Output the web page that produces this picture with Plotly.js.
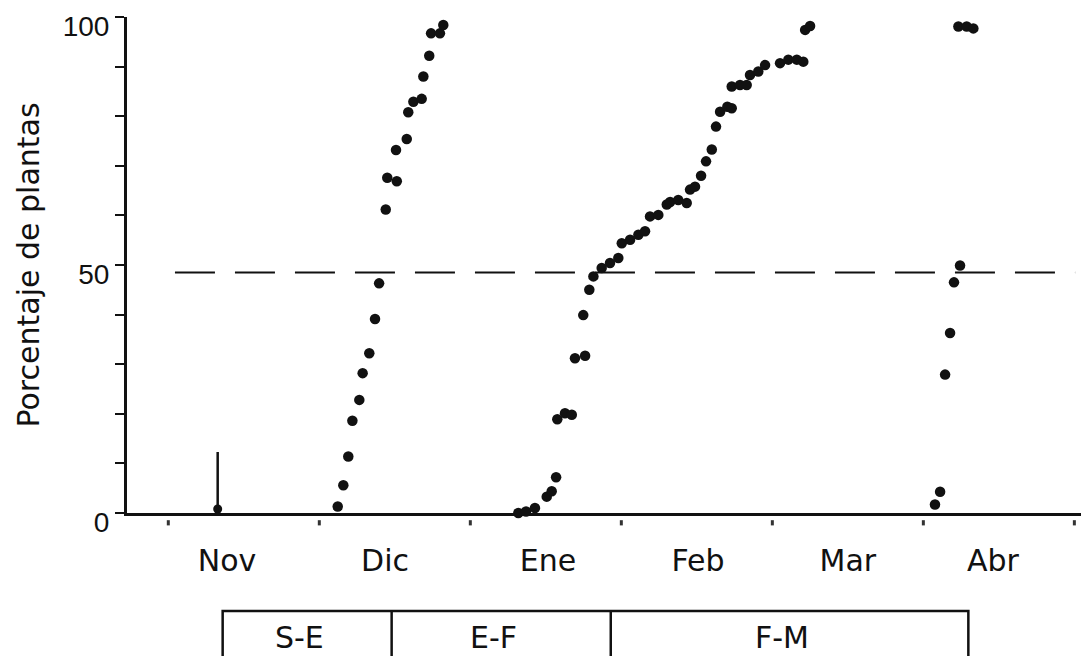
<!DOCTYPE html>
<html>
<head>
<meta charset="utf-8">
<script src="https://cdn.plot.ly/plotly-3.0.1.min.js"></script>
<style>
html,body{margin:0;padding:0;background:#fff;}
#chart{width:1081px;height:656px;}
</style>
</head>
<body>
<div id="chart"></div>
<script>
// x values: months elapsed since 1 November (0 = 1 Nov, 1 = 1 Dec, ...)
// y values: percentage of plants (Porcentaje de plantas)

// Group emerging in December
const decX = [1.122,1.159,1.192,1.219,1.265,1.287,1.331,1.369,1.396,1.440,1.450,1.513,1.508,1.579,1.589,1.623,1.678,1.689,1.728,1.740,1.799,1.821];
const decY = [1.3,5.6,11.4,18.6,22.8,28.2,32.2,39.1,46.3,61.2,67.6,66.9,73.2,75.4,80.8,82.9,83.5,88.0,92.2,96.7,96.7,98.4];

// Group from January to February
const janX = [2.318,2.369,2.428,2.506,2.539,2.568,2.576,2.627,2.672,2.693,2.760,2.748,2.788,2.815,2.870,2.925,2.980,3.003,3.058,3.113,3.157,3.190,3.245,3.301,3.323,3.377,3.433,3.455,3.488,3.528,3.561,3.599,3.627,3.654,3.702,3.731,3.731,3.786,3.830,3.852,3.907,3.952,4.051,4.106,4.162,4.205,4.217,4.250];
const janY = [0,0.3,1.0,3.3,4.4,7.2,18.9,20.1,19.8,31.2,31.7,39.9,45.0,47.7,49.4,50.4,51.4,54.4,55.1,56.1,56.8,59.8,60.1,62.2,62.7,63.1,62.5,65.2,65.8,68.0,70.9,73.3,77.9,80.9,81.9,81.6,86.0,86.3,86.3,88.3,89.0,90.3,90.7,91.4,91.4,91.0,97.4,98.2];

// Group in March / April
const aprX = [5.077,5.111,5.144,5.177,5.203,5.243,5.232,5.287,5.331];
const aprY = [1.7,4.3,27.9,36.3,46.5,49.9,98.1,98.1,97.7];

// Sowing date marker (arrow)
const sowingX = 0.327;
const sowingTop = 12.3;

// Reference level (dashed line)
const refLevel = 48.5;
const refStart = 0.044, refEnd = 6.005;

// Month boundaries and labels
const monthBounds = [0,1,2,3,4,5,6];
const monthLabelPos = [0.389,1.435,2.515,3.508,4.5,5.461];
const monthLabels = ['Nov','Dic','Ene','Feb','Mar','Abr'];

// Y ticks
const yTickVals = [0,10,20,30,40,50,60,70,80,90,100];
const yTickText = ['0','','','','','50','','','','','100'];

// Period bar under the axis
const periodBounds = [0.360,1.479,2.930,5.298];
const periodLabels = ['S-E','E-F','F-M'];

const INK = '#111111';
const dotStyle = {size:10.5,color:INK};

const traces = [
  {x:decX,y:decY,mode:'markers',type:'scatter',marker:dotStyle,cliponaxis:false,name:'Dic'},
  {x:janX,y:janY,mode:'markers',type:'scatter',marker:dotStyle,cliponaxis:false,name:'Ene-Feb'},
  {x:aprX,y:aprY,mode:'markers',type:'scatter',marker:dotStyle,cliponaxis:false,name:'Abr'},
  {x:[sowingX],y:[0.8],mode:'markers',type:'scatter',marker:{size:9,color:INK},cliponaxis:false,hoverinfo:'skip'}
];

const shapes = [
  {type:'line',xref:'x',yref:'y',x0:refStart,x1:refEnd,y0:refLevel,y1:refLevel,
   line:{color:INK,width:2,dash:'40px,20px'}},
  // sowing arrow stem (runs slightly below the axis)
  {type:'line',xref:'x',yref:'y',x0:sowingX,x1:sowingX,y0:-1.6,y1:sowingTop,
   line:{color:INK,width:2.5}},
  {type:'rect',xref:'x',yref:'paper',x0:periodBounds[0],x1:periodBounds[periodBounds.length-1],
   y0:-0.34,y1:-0.1976,line:{color:INK,width:2.5}}
];
for(let i=1;i<periodBounds.length-1;i++){
  shapes.push({type:'line',xref:'x',yref:'paper',x0:periodBounds[i],x1:periodBounds[i],y0:-0.34,y1:-0.1976,line:{color:INK,width:2.5}});
}
// month boundary marks: short dashes detached below the axis
monthBounds.forEach(b=>{
  shapes.push({type:'line',xref:'x',yref:'paper',x0:b,x1:b,y0:-0.0145,y1:-0.025,line:{color:'#333',width:3}});
});

const annotations = periodLabels.map((t,i)=>({
  text:t,xref:'x',yref:'paper',x:(periodBounds[i]+periodBounds[i+1])/2,y:-0.251,
  xshift:-8,showarrow:false,xanchor:'center',yanchor:'middle',
  font:{family:'DejaVu Sans',size:30,color:INK}
}));

const layout = {
  width:1081,height:656,
  margin:{l:127,r:0,t:17,b:143,pad:0},
  paper_bgcolor:'#ffffff',plot_bgcolor:'#ffffff',
  showlegend:false,
  xaxis:{
    range:[-0.2735,6.044],
    showgrid:false,zeroline:false,
    showline:true,linecolor:INK,linewidth:3,
    tickmode:'array',tickvals:monthLabelPos,ticktext:monthLabels,
    ticks:'',ticklabelstandoff:19,
    tickfont:{family:'DejaVu Sans',size:30,color:INK},
    fixedrange:true
  },
  yaxis:{
    range:[0,100],
    showgrid:false,zeroline:false,
    showline:true,linecolor:INK,linewidth:3,
    tickmode:'array',tickvals:yTickVals,ticktext:yTickText,
    ticks:'outside',ticklen:9,tickwidth:2,tickcolor:INK,
    ticklabelstandoff:0,ticklabelshift:9,ticklabeloverflow:'allow',
    tickfont:{family:'Liberation Sans Narrow, Liberation Sans, sans-serif',size:28,color:INK},
    title:{text:'Porcentaje de plantas',standoff:15,
      font:{family:'DejaVu Sans',size:30,color:INK}},
    fixedrange:true
  },
  shapes:shapes,
  annotations:annotations
};

Plotly.newPlot('chart',traces,layout,{displayModeBar:false,staticPlot:true});
</script>
</body>
</html>
